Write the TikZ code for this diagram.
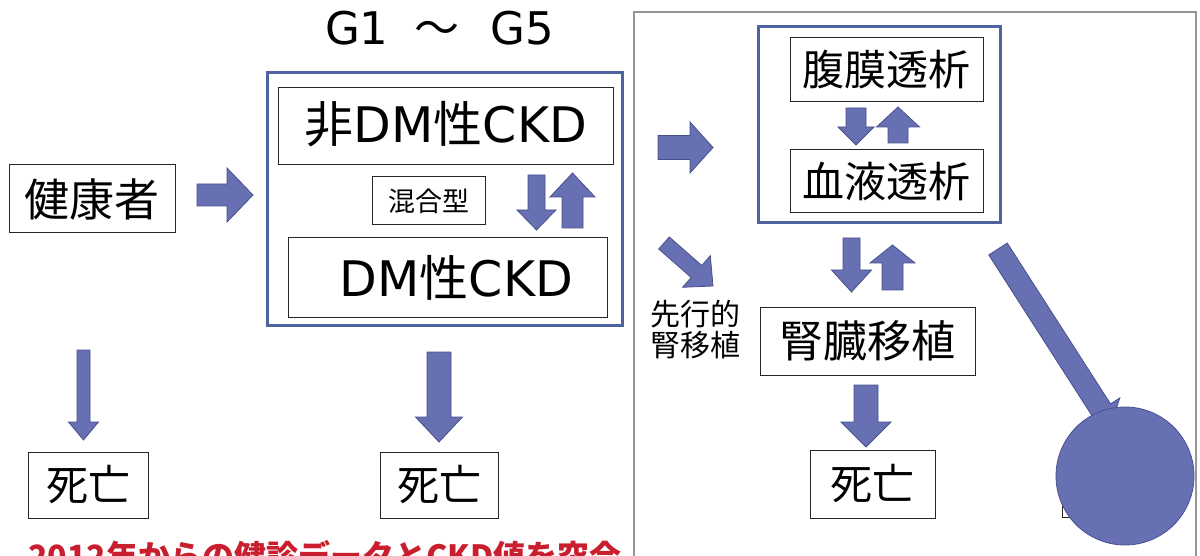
\documentclass[tikz,border=0pt]{standalone}
\usepackage{fontspec}
\setmainfont{DejaVu Sans}
\newfontfamily\jp{Noto Sans CJK JP}
\usetikzlibrary{calc}
\definecolor{arrowfill}{RGB}{104,112,180}
\definecolor{arrowline}{RGB}{72,80,140}
\definecolor{boxblue}{RGB}{78,100,158}
\definecolor{panelgray}{RGB}{150,150,150}
\definecolor{notered}{RGB}{200,30,45}
\tikzset{
  bx/.style={draw=black!85, line width=1pt, fill=white, inner sep=0pt, align=center},
  bluebox/.style={draw=boxblue, line width=3pt, inner sep=0pt},
  barrow/.style={fill=arrowfill, draw=arrowline, line width=0.8pt, line join=miter},
  fs/.style={font=\fontsize{#1pt}{#1pt}\selectfont},
}
% block arrow: from, to, shaft half width, head half width, head length
\newcommand\blockarrow[5]{%
  \coordinate (bah) at ($(#2)!#5pt!(#1)$);
  \filldraw[barrow] ($(#1)!#3pt!90:(#2)$) -- ($(bah)!#3pt!90:(#2)$) -- ($(bah)!#4pt!90:(#2)$) -- (#2)
    -- ($(bah)!#4pt!-90:(#2)$) -- ($(bah)!#3pt!-90:(#2)$) -- ($(#1)!#3pt!-90:(#2)$) -- cycle;}
\begin{document}
\begin{tikzpicture}[x=1pt,y=-1pt]
\useasboundingbox (0,0) rectangle (1200,556);
\clip (0,0) rectangle (1200,556);
\fill[white] (0,0) rectangle (1200,556);

% right panel frame
\draw[panelgray, line width=1.2pt] (634,12) rectangle (1196,620);

% title
\node[fs=45, anchor=base, inner sep=0pt] (grade) at (439.5,45) {G1\hspace{26pt}{\jp ～}\hspace{31pt}G5};

% left column
\node[bx, minimum width=166pt, minimum height=68pt, fs=45] (healthy) at (92,199) {\jp 健康者};
\node[bx, minimum width=120pt, minimum height=66pt, fs=42] (death1) at (88,485) {\jp 死亡};
\coordinate (a1s) at (197,195); \coordinate (a1e) at (253,195);
\blockarrow{a1s}{a1e}{11}{27}{26}
\coordinate (d1s) at (83.5,350); \coordinate (d1e) at (83.5,440);
\blockarrow{d1s}{d1e}{6.5}{15}{18}

% CKD group
\node[bluebox, minimum width=355pt, minimum height=252pt] (ckd) at (444.5,199) {};
\node[bx, minimum width=335pt, minimum height=77pt] (nondm) at (445.5,126.5) {};
\node[fs=49, anchor=base, inner sep=0pt] at (446,143) {{\jp 非}DM{\jp 性}CKD};
\node[bx, minimum width=113pt, minimum height=48pt, fs=27] (mix) at (428.5,201) {\jp 混合型};
\node[bx, minimum width=319pt, minimum height=79pt] (dm) at (447.5,277.5) {};
\node[fs=49, anchor=base, inner sep=0pt] at (456.5,297) {DM{\jp 性}CKD};
\coordinate (c1s) at (536.5,175); \coordinate (c1e) at (536.5,230);
\blockarrow{c1s}{c1e}{8.5}{19.5}{20}
\coordinate (c2s) at (572.5,228); \coordinate (c2e) at (572.5,173);
\blockarrow{c2s}{c2e}{10.5}{22.5}{24}
\node[bx, minimum width=118pt, minimum height=66pt, fs=42] (death2) at (439,485) {\jp 死亡};
\coordinate (d2s) at (439,352); \coordinate (d2e) at (439,442);
\blockarrow{d2s}{d2e}{12}{23.5}{25}

% right panel
\coordinate (p1s) at (658,147.5); \coordinate (p1e) at (713,147.5);
\blockarrow{p1s}{p1e}{12}{25.5}{23}
\node[bluebox, minimum width=242pt, minimum height=196pt] (dial) at (879,125) {};
\node[bx, minimum width=193pt, minimum height=64pt, fs=42] (peri) at (886.5,70) {\jp 腹膜透析};
\node[bx, minimum width=193pt, minimum height=63pt, fs=42] (hemo) at (886.5,181.5) {\jp 血液透析};
\coordinate (r1s) at (856,108); \coordinate (r1e) at (856,145);
\blockarrow{r1s}{r1e}{10}{18}{18}
\coordinate (r2s) at (898,143); \coordinate (r2e) at (898,107);
\blockarrow{r2s}{r2e}{10}{21.5}{20}
\coordinate (q1s) at (664,243); \coordinate (q1e) at (713,286);
\blockarrow{q1s}{q1e}{8}{21}{22}
\node[fs=30, align=center, inner sep=0pt] (pre) at (695,330) {\jp 先行的\\[1pt]\jp 腎移植};
\node[bx, minimum width=215pt, minimum height=68pt, fs=44] (tx) at (867.5,341) {\jp 腎臓移植};
\coordinate (t1s) at (851.5,238); \coordinate (t1e) at (851.5,292);
\blockarrow{t1s}{t1e}{8.5}{20}{22}
\coordinate (t2s) at (892.5,290); \coordinate (t2e) at (892.5,245);
\blockarrow{t2s}{t2e}{10.5}{22.5}{18}
\node[bx, minimum width=125pt, minimum height=68pt, fs=42] (death3) at (872.5,484) {\jp 死亡};
\coordinate (t3s) at (866,385); \coordinate (t3e) at (866,447);
\blockarrow{t3s}{t3e}{12}{25}{25}

% hidden box and pin
\node[bx, minimum width=90pt, minimum height=70pt] (death4) at (1107,482) {};
\coordinate (pinA) at (998,249); \coordinate (pinB) at (1111,425);
\blockarrow{pinA}{pinB}{11}{22}{18}
\node[circle, fill=arrowfill, draw=arrowline, line width=0.8pt, minimum size=138pt, inner sep=0pt] (ball) at (1125,476) {};

% red note (cut off at bottom, as in the reference)
\node[fs=32, anchor=base west, inner sep=0pt, text=notered] (note) at (28,568) {\jp\bfseries 2012年からの健診データとCKD値を突合};
\end{tikzpicture}
\end{document}
